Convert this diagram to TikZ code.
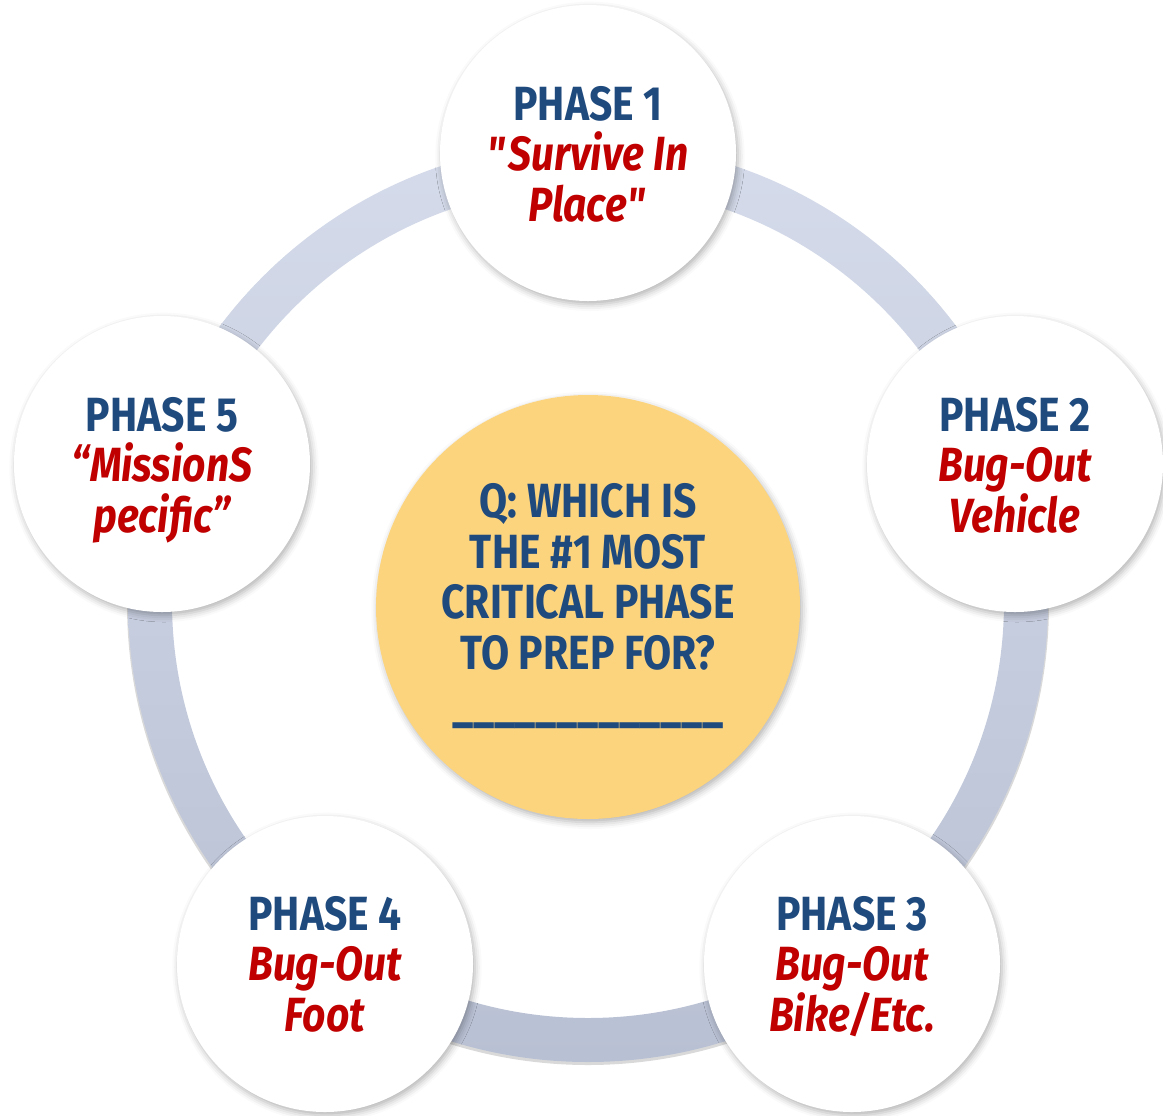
\documentclass[tikz,border=0pt]{standalone}
\usepackage{fontspec}
\setmainfont{Fira Sans}[FakeStretch=0.85]
\usetikzlibrary{shadows.blur}
\definecolor{phblue}{HTML}{1F4A7E}
\definecolor{phred}{HTML}{C00000}
\definecolor{qyellow}{HTML}{FDD47E}
\definecolor{ringtop}{HTML}{D5DBEA}
\definecolor{ringbot}{HTML}{B8C0D3}
\begin{document}
\begin{tikzpicture}[x=0.75pt,y=-0.75pt,
  phasecircle/.style={circle, fill=white, minimum size=222pt, inner sep=0pt,
    blur shadow={shadow xshift=1.5pt, shadow yshift=-2.5pt, shadow blur radius=5pt, shadow opacity=30}},
  qcircle/.style={circle, fill=qyellow, minimum size=318pt, inner sep=0pt,
    blur shadow={shadow xshift=1.5pt, shadow yshift=-2.5pt, shadow blur radius=5pt, shadow opacity=30}},
  headtxt/.style={anchor=base, inner sep=0pt, text=phblue, font=\fontsize{36}{38}\selectfont\bfseries},
  subtxt/.style={anchor=base, inner sep=0pt, text=phred, font=\fontsize{36}{38}\selectfont\bfseries\itshape},
]
\useasboundingbox (0,0) rectangle (1163,1115);
% ring shadow
\draw[black, opacity=0.15, line width=3pt] (588,604) circle [radius=459];
% ring
\shade[even odd rule, top color=ringtop, bottom color=ringbot]
  (588,602) circle [radius=460] (588,602) circle [radius=416];
% circles
\node[phasecircle] (c1) at (588,153) {};
\node[phasecircle] (c2) at (1015,464) {};
\node[phasecircle] (c3) at (852,964) {};
\node[phasecircle] (c4) at (325,964) {};
\node[phasecircle] (c5) at (162,464) {};
\node[qcircle] (cq) at (588,607) {};
% phase 1
\node[headtxt] (t1a) at (588,120) {PHASE 1};
\node[subtxt] (t1b) at (588,170) {\textquotedbl Survive In};
\node[subtxt] (t1c) at (588,221) {Place\textquotedbl};
% phase 2
\node[headtxt] (t2a) at (1015,431) {PHASE 2};
\node[subtxt] (t2b) at (1015,481) {Bug-Out};
\node[subtxt] (t2c) at (1015,532) {Vehicle};
% phase 3
\node[headtxt] (t3a) at (852,930) {PHASE 3};
\node[subtxt] (t3b) at (852,980) {Bug-Out};
\node[subtxt] (t3c) at (852,1031) {Bike/Etc.};
% phase 4
\node[headtxt] (t4a) at (325,930) {PHASE 4};
\node[subtxt] (t4b) at (325,980) {Bug-Out};
\node[subtxt] (t4c) at (325,1031) {Foot};
% phase 5
\node[headtxt] (t5a) at (162,431) {PHASE 5};
\node[subtxt] (t5b) at (162,481) {“MissionS};
\node[subtxt] (t5c) at (162,532) {pecific”};
% question
\node[headtxt] (q1) at (588,517) {Q: WHICH IS};
\node[headtxt] (q2) at (588,568) {THE \#1 MOST};
\node[headtxt] (q3) at (588,618) {CRITICAL PHASE};
\node[headtxt] (q4) at (588,669) {TO PREP FOR?};
\node[headtxt] (q5) at (588,720) {\_\_\_\_\_\_\_\_\_\_\_\_\_};
\end{tikzpicture}
\end{document}
